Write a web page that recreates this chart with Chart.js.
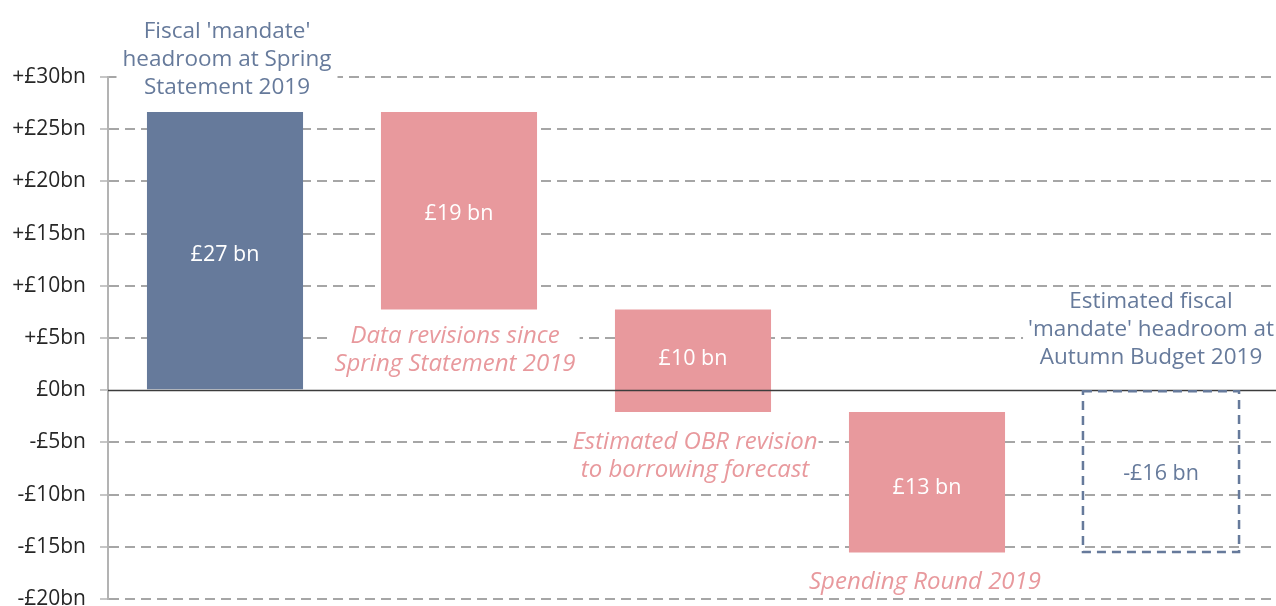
<!DOCTYPE html>
<html>
<head>
<meta charset="utf-8">
<script src="https://cdn.jsdelivr.net/npm/chart.js@4/dist/chart.umd.min.js"></script>
<style>
html, body { margin: 0; padding: 0; background: #fff; overflow: hidden; }
#wrap { width: 1278px; height: 606px; position: relative; }
</style>
</head>
<body>
<div id="wrap"><canvas id="chart"></canvas></div>
<script>
// waterfall steps, values in £bn
const categories = ['Spring Statement 2019', 'Data revisions', 'OBR revision', 'Spending Round 2019', 'Autumn Budget 2019'];
const barStarts = [0, 7.74, -2.08, -15.55, -15.5];
const barEnds = [26.65, 26.65, 7.74, -2.08, 0];
const valueLabels = ['£27 bn', '£19 bn', '£10 bn', '£13 bn', '-£16 bn'];
const captions = [
    ["Fiscal 'mandate'", 'headroom at Spring', 'Statement 2019'],
    ['Data revisions since', 'Spring Statement 2019'],
    ['Estimated OBR revision', 'to borrowing forecast'],
    ['Spending Round 2019'],
    ['Estimated fiscal', "'mandate' headroom at", 'Autumn Budget 2019']
];
const yTicks = [-20, -15, -10, -5, 0, 5, 10, 15, 20, 25, 30];

const SLATE = '#667a9b';
const PINK = '#e8999d';
const FONT = "'Open Sans', sans-serif";

// caption placement: first line (y in £bn), x nudge and box padding in px
const captionY = [34.39, 5.17, -4.98, -18.39, 8.52];
const captionDx = [2, -4, 2, -2, -10];
const captionPad = [6, 4, 1, 15, 5];
const captionColor = [SLATE, PINK, PINK, PINK, SLATE];
const captionItalic = [false, true, true, true, false];
const valueDy = [4, 3, -2, 6, 2];

const overlay = {
    id: 'overlay',
    afterDatasetsDraw(chart) {
        const ctx = chart.ctx;
        const x = chart.scales.x;
        const y = chart.scales.y;
        const area = chart.chartArea;
        const bars = chart.getDatasetMeta(0).data;

        ctx.save();
        // captions with white boxes that hide the grid behind them
        ctx.textAlign = 'center';
        ctx.textBaseline = 'middle';
        captions.forEach((lines, i) => {
            ctx.font = captionItalic[i] ? 'italic 24px ' + FONT : '22.5px ' + FONT;
            const cx = x.getPixelForValue(i) + captionDx[i];
            const top = y.getPixelForValue(captionY[i]);
            const lh = 28;
            const w = Math.max(...lines.map(l => ctx.measureText(l).width));
            const p = captionPad[i];
            ctx.fillStyle = '#fff';
            ctx.fillRect(cx - w / 2 - p, top - lh / 2, w + 2 * p, lh * lines.length);
            ctx.fillStyle = captionColor[i];
            lines.forEach((l, k) => ctx.fillText(l, cx, top + k * lh));
        });

        // zero line on top of the bars
        const y0 = Math.round(y.getPixelForValue(0)) + 0.5;
        ctx.strokeStyle = '#3c3c3c';
        ctx.lineWidth = 1.5;
        ctx.beginPath();
        ctx.moveTo(area.left, y0);
        ctx.lineTo(area.right, y0);
        ctx.stroke();

        // dashed outline for the final headroom
        const last = bars[4];
        ctx.strokeStyle = SLATE;
        ctx.lineWidth = 2.5;
        ctx.setLineDash([9, 6]);
        ctx.strokeRect(last.x - last.width / 2, Math.min(last.y, last.base), last.width, Math.abs(last.base - last.y));
        ctx.setLineDash([]);

        // value labels inside each bar
        ctx.font = '21.5px ' + FONT;
        bars.forEach((b, i) => {
            ctx.fillStyle = i === 4 ? SLATE : '#fff';
            ctx.fillText(valueLabels[i], b.x, (b.y + b.base) / 2 + valueDy[i]);
        });
        ctx.restore();
    }
};

new Chart(document.getElementById('chart'), {
    type: 'bar',
    data: {
        labels: categories,
        datasets: [{
            data: barStarts.map((s, i) => [s, barEnds[i]]),
            backgroundColor: [SLATE, PINK, PINK, PINK, 'rgba(0,0,0,0)'],
            borderWidth: 0,
            barPercentage: 0.667,
            categoryPercentage: 1
        }]
    },
    options: {
        responsive: true,
        maintainAspectRatio: false,
        animation: false,
        layout: { padding: { top: 77, bottom: 7, left: 0, right: 0 } },
        plugins: { legend: { display: false }, tooltip: { enabled: false } },
        scales: {
            x: { display: false },
            y: {
                min: -20,
                max: 30,
                afterBuildTicks: (s) => { s.ticks = yTicks.map(v => ({ value: v })); },
                afterFit: (s) => { s.width = 108; s.paddingTop = 0; s.paddingBottom = 0; },
                ticks: {
                    padding: 14,
                    color: '#262626',
                    font: { family: FONT, size: 21 },
                    callback: (v) => (v > 0 ? '+' : v < 0 ? '-' : '') + '£' + Math.abs(v) + 'bn'
                },
                grid: {
                    color: (c) => c.tick && c.tick.value === 0 ? 'rgba(0,0,0,0)' : '#a6a6a6',
                    lineWidth: 2,
                    tickColor: '#b3b3b3',
                    tickLength: 8,
                    tickWidth: 1.5,
                    tickBorderDash: []
                },
                border: {
                    color: '#b3b3b3',
                    width: 2,
                    dash: (c) => c.tick ? [10, 6] : []
                }
            }
        }
    },
    plugins: [overlay]
});
</script>
</body>
</html>
